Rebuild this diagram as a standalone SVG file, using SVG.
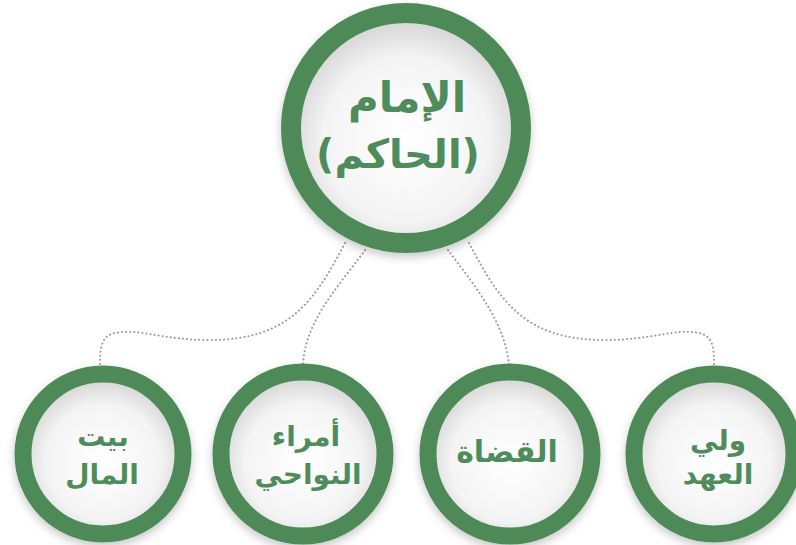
<svg xmlns="http://www.w3.org/2000/svg" width="796" height="545" viewBox="0 0 796 545">
<defs>
<radialGradient id="face" cx="50%" cy="55%" r="55%">
<stop offset="0%" stop-color="#ffffff"/>
<stop offset="65%" stop-color="#f4f4f4"/>
<stop offset="100%" stop-color="#cfcfcf"/>
</radialGradient>
<filter id="sh" x="-20%" y="-20%" width="140%" height="140%">
<feDropShadow dx="0" dy="4" stdDeviation="5" flood-color="#000" flood-opacity="0.22"/>
</filter>
<style>
.ring{fill:url(#face);stroke:#4d8a59;filter:url(#sh)}
.lbl{fill:#4f8c5b;font-family:"DejaVu Sans",sans-serif;font-weight:bold;text-anchor:middle}
.con{fill:none;stroke:#9a9a9a;stroke-width:2;stroke-dasharray:0.1 4;stroke-linecap:round}
</style>
</defs>
<rect width="796" height="545" fill="#ffffff"/>
<g id="connectors">
<path class="con" d="M345 243 C315 300 290 340 210 340 C160 340 140 328 115 333 C102 336 100 345 100 365"/>
<path class="con" d="M365 250 C340 285 305 320 303 365"/>
<path class="con" d="M448 250 C470 280 505 320 509 365"/>
<path class="con" d="M469 243 C499 300 524 340 604 340 C654 340 674 328 699 333 C712 336 714 345 714 365"/>
</g>
<g id="node-imam">
<circle class="ring" cx="406" cy="128" r="115" stroke-width="20"/>
<text class="lbl" x="407" y="112" font-size="42">الإمام</text>
<text class="lbl" x="398" y="168" font-size="40">(الحاكم)</text>
</g>
<g id="node-bayt">
<circle class="ring" cx="103" cy="454" r="80" stroke-width="17"/>
<text class="lbl" x="103" y="446" font-size="28">بيت</text>
<text class="lbl" x="102" y="484" font-size="28">المال</text>
</g>
<g id="node-umara">
<circle class="ring" cx="303" cy="454" r="82" stroke-width="17"/>
<text class="lbl" x="306" y="446" font-size="28">أمراء</text>
<text class="lbl" x="308" y="484" font-size="28">النواحي</text>
</g>
<g id="node-qudat">
<circle class="ring" cx="510" cy="454" r="82" stroke-width="17"/>
<text class="lbl" x="507" y="462" font-size="30">القضاة</text>
</g>
<g id="node-wali">
<circle class="ring" cx="714" cy="454" r="80" stroke-width="17"/>
<text class="lbl" x="718" y="450" font-size="28">ولي</text>
<text class="lbl" x="718" y="484" font-size="28">العهد</text>
</g>
</svg>
